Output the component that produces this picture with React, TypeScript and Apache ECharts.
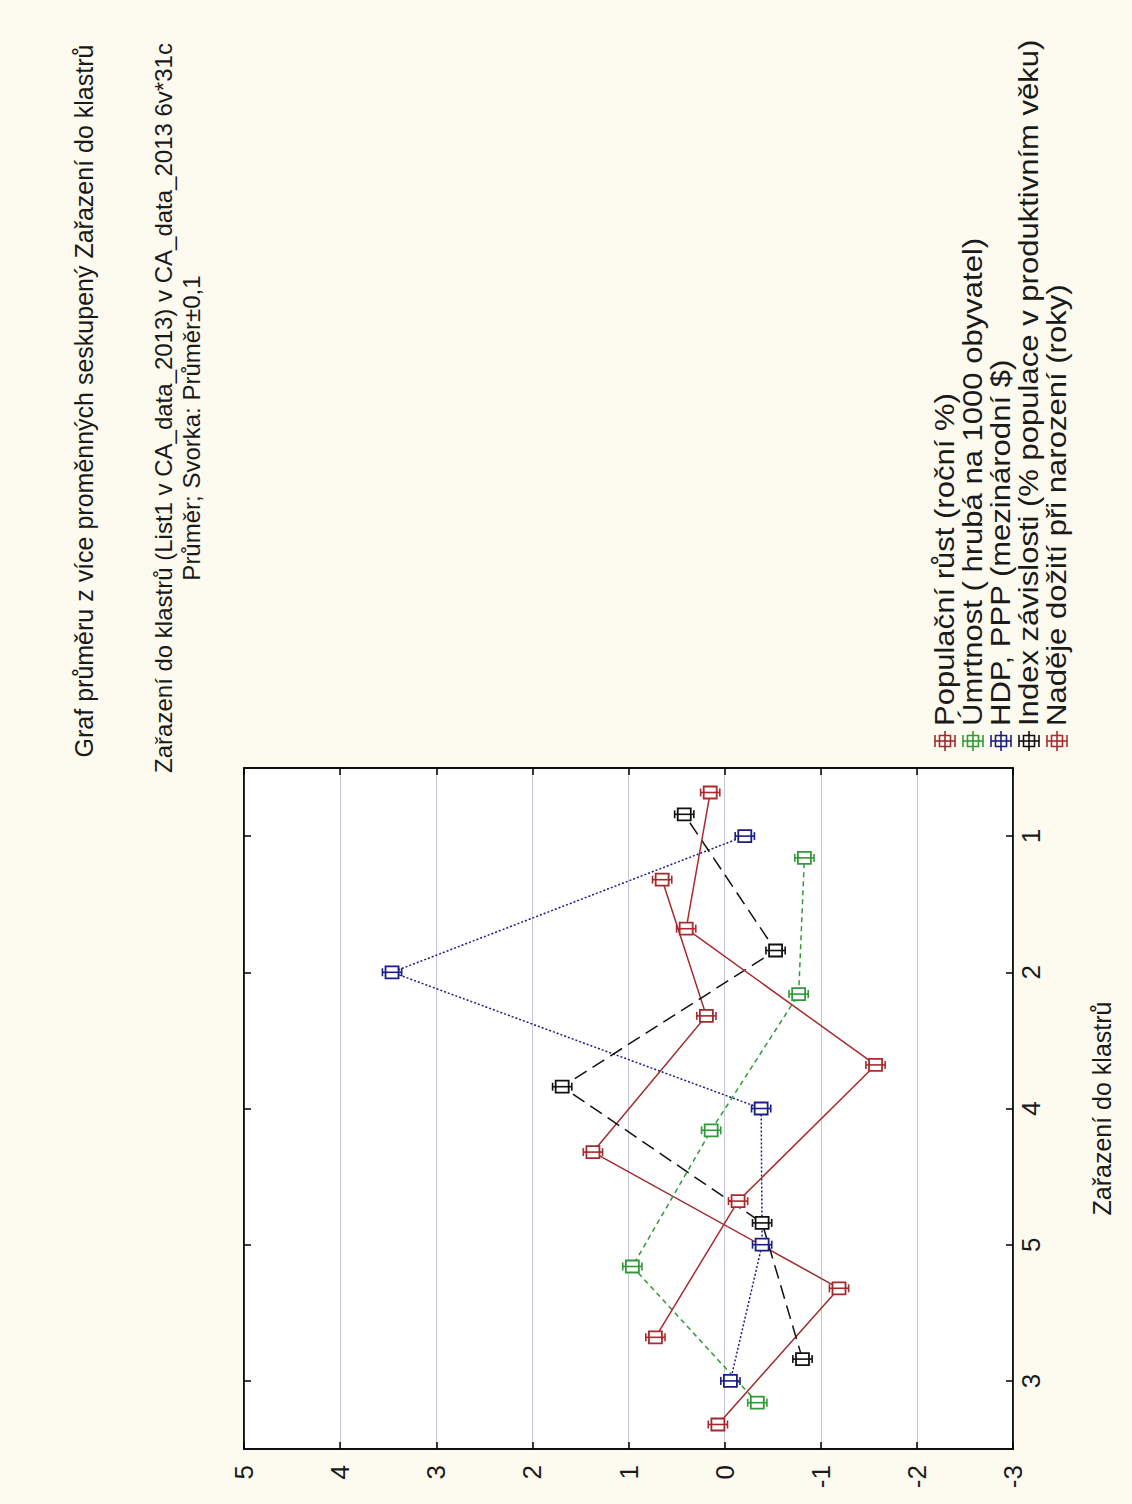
import React, { useEffect, useRef } from "react";
import * as echarts from "echarts";

// Cluster order along the category axis (bottom to top as drawn)
const clusters = ["3", "5", "4", "2", "1"];

const seriesNames = [
  "Populační růst (roční %)",
  "Úmrtnost ( hrubá na 1000 obyvatel)",
  "HDP, PPP (mezinárodní $)",
  "Index závislosti (% populace v produktivním věku)",
  "Naděje dožití při narození (roky)",
];

// Standardised means per cluster, in the order of `clusters`
const populacniRust = [0.07, -1.19, 1.37, 0.19, 0.65];
const umrtnost = [-0.34, 0.96, 0.14, -0.77, -0.83];
const hdpPpp = [-0.06, -0.39, -0.38, 3.46, -0.21];
const indexZavislosti = [-0.81, -0.39, 1.69, -0.53, 0.42];
const nadejeDoziti = [0.72, -0.14, -1.57, 0.4, 0.15];

const valueTicks = { min: -3, max: 5, step: 1 };
const whisker = 0.1; // Průměr ± 0,1

const titleLines = [
  "Graf průměru z více proměnných seskupený Zařazení do klastrů",
  "Zařazení do klastrů (List1 v CA_data_2013) v CA_data_2013 6v*31c",
  "Průměr; Svorka: Průměr±0,1",
];
const axisTitle = "Zařazení do klastrů";

const FONT = "'Liberation Sans', Arial, sans-serif";

const styles = [
  { color: "#a02a2c", type: "solid" as any },
  { color: "#2f9a36", type: [5, 4] as any },
  { color: "#1c1c86", type: [2, 2] as any },
  { color: "#111111", type: [14, 7] as any },
  { color: "#ac2a2e", type: "solid" as any },
];
// Side-by-side spread of the five variables inside one cluster band
const spread = [-0.32, -0.16, 0, 0.16, 0.32];

export default function App() {
  const ref = useRef<HTMLDivElement>(null);

  useEffect(() => {
    if (!ref.current) return;
    const chart = echarts.init(ref.current, null, { renderer: "svg" });
    const all = [populacniRust, umrtnost, hdpPpp, indexZavislosti, nadejeDoziti];

    const series: any[] = [];
    all.forEach((vals, i) => {
      const data = vals.map((v, k) => [v, k + spread[i]]);
      const st = styles[i];
      series.push({
        name: seriesNames[i],
        type: "line",
        xAxisIndex: 0,
        yAxisIndex: 2,
        data,
        showSymbol: false,
        symbol: "none",
        lineStyle: { color: st.color, width: 1.5, type: st.type },
        z: 2,
      });
      series.push({
        name: seriesNames[i] + " ±",
        type: "custom",
        xAxisIndex: 0,
        yAxisIndex: 2,
        data,
        encode: { x: 0, y: 1 },
        z: 3,
        renderItem: (params: any, api: any) => {
          const v = api.value(0);
          const p = api.value(1);
          const c = api.coord([v, p]);
          const a = api.coord([v + whisker, p]);
          const b = api.coord([v - whisker, p]);
          const s = { stroke: st.color, lineWidth: 1.6, fill: "none" };
          return {
            type: "group",
            children: [
              { type: "rect", shape: { x: c[0] - 6.5, y: c[1] - 6, width: 13, height: 12 }, style: { fill: "#ffffff", stroke: st.color, lineWidth: 1.8 } },
              { type: "line", shape: { x1: a[0], y1: c[1], x2: b[0], y2: c[1] }, style: s },
              { type: "line", shape: { x1: a[0], y1: c[1] - 4, x2: a[0], y2: c[1] + 4 }, style: s },
              { type: "line", shape: { x1: b[0], y1: c[1] - 4, x2: b[0], y2: c[1] + 4 }, style: s },
            ],
          };
        },
      });
    });

    // Legend drawn as rotated entries (icon + text)
    const legendX = [945, 973, 1001, 1029, 1057];
    const legendIconY = 741;
    const legend: any[] = [];
    seriesNames.forEach((name, i) => {
      const x = legendX[i];
      const col = styles[i].color;
      const s = { stroke: col, lineWidth: 1.6, fill: "none" };
      legend.push(
        { type: "line", shape: { x1: x - 10, y1: legendIconY, x2: x + 10, y2: legendIconY }, style: s },
        { type: "line", shape: { x1: x - 10, y1: legendIconY - 6, x2: x - 10, y2: legendIconY + 6 }, style: s },
        { type: "line", shape: { x1: x + 10, y1: legendIconY - 6, x2: x + 10, y2: legendIconY + 6 }, style: s },
        { type: "rect", shape: { x: x - 5.5, y: legendIconY - 5.5, width: 11, height: 11 }, style: s },
        { type: "line", shape: { x1: x, y1: legendIconY - 10, x2: x, y2: legendIconY + 10 }, style: s },
        {
          type: "text",
          x,
          y: legendIconY - 15,
          rotation: Math.PI / 2,
          scaleX: 1.15,
          style: { text: name, font: `27px ${FONT}`, fill: "#1a1a1a", align: "left", verticalAlign: "middle" },
        }
      );
    });

    const titles: any[] = [
      { x: 84, y: 401, size: 25, text: titleLines[0] },
      { x: 163, y: 408, size: 24, text: titleLines[1] },
      { x: 191, y: 428, size: 24, text: titleLines[2] },
    ].map((t) => ({
      type: "text",
      x: t.x,
      y: t.y,
      rotation: Math.PI / 2,
      style: { text: t.text, font: `${t.size}px ${FONT}`, fill: "#1a1a1a", align: "center", verticalAlign: "middle" },
    }));

    const frameLine = { show: true, onZero: false, lineStyle: { color: "#000", width: 1.5 } };
    const inTick = { show: true, inside: true, length: 7, lineStyle: { color: "#000", width: 1.5 } };

    chart.setOption({
      animation: false,
      backgroundColor: "#fdfbef",
      textStyle: { fontFamily: FONT },
      grid: {
        left: 244,
        top: 768,
        width: 769,
        height: 681,
        show: true,
        backgroundColor: "#ffffff",
        borderColor: "#000",
        borderWidth: 1.5,
      },
      xAxis: [
        {
          type: "value",
          position: "bottom",
          inverse: true,
          min: valueTicks.min,
          max: valueTicks.max,
          interval: valueTicks.step,
          axisLine: frameLine,
          axisTick: inTick,
          axisLabel: { rotate: 90, fontSize: 26, color: "#1a1a1a", margin: 16, fontFamily: FONT },
          splitLine: { show: true, lineStyle: { color: "#c3c8d8", width: 1 } },
        },
        {
          type: "value",
          position: "top",
          inverse: true,
          min: valueTicks.min,
          max: valueTicks.max,
          interval: valueTicks.step,
          axisLine: frameLine,
          axisTick: inTick,
          axisLabel: { show: false },
          splitLine: { show: false },
        },
      ],
      yAxis: [
        {
          type: "category",
          position: "right",
          data: clusters,
          boundaryGap: true,
          axisLine: frameLine,
          axisTick: { ...inTick, alignWithLabel: true },
          axisLabel: { rotate: 90, fontSize: 26, color: "#1a1a1a", margin: 5, fontFamily: FONT },
          splitLine: { show: false },
          name: axisTitle,
          nameLocation: "middle",
          nameRotate: 90,
          nameGap: 76,
          nameTextStyle: { fontSize: 25, color: "#1a1a1a", fontFamily: FONT },
        },
        {
          type: "category",
          position: "left",
          data: clusters,
          boundaryGap: true,
          axisLine: frameLine,
          axisTick: { ...inTick, alignWithLabel: true },
          axisLabel: { show: false },
          splitLine: { show: false },
        },
        {
          type: "value",
          min: -0.5,
          max: clusters.length - 0.5,
          show: false,
        },
      ],
      graphic: [...titles, ...legend],
      series,
    });

    return () => chart.dispose();
  }, []);

  return (
    <div
      ref={ref}
      style={{ position: "absolute", left: 0, top: 0, width: 1132, height: 1504 }}
    />
  );
}
